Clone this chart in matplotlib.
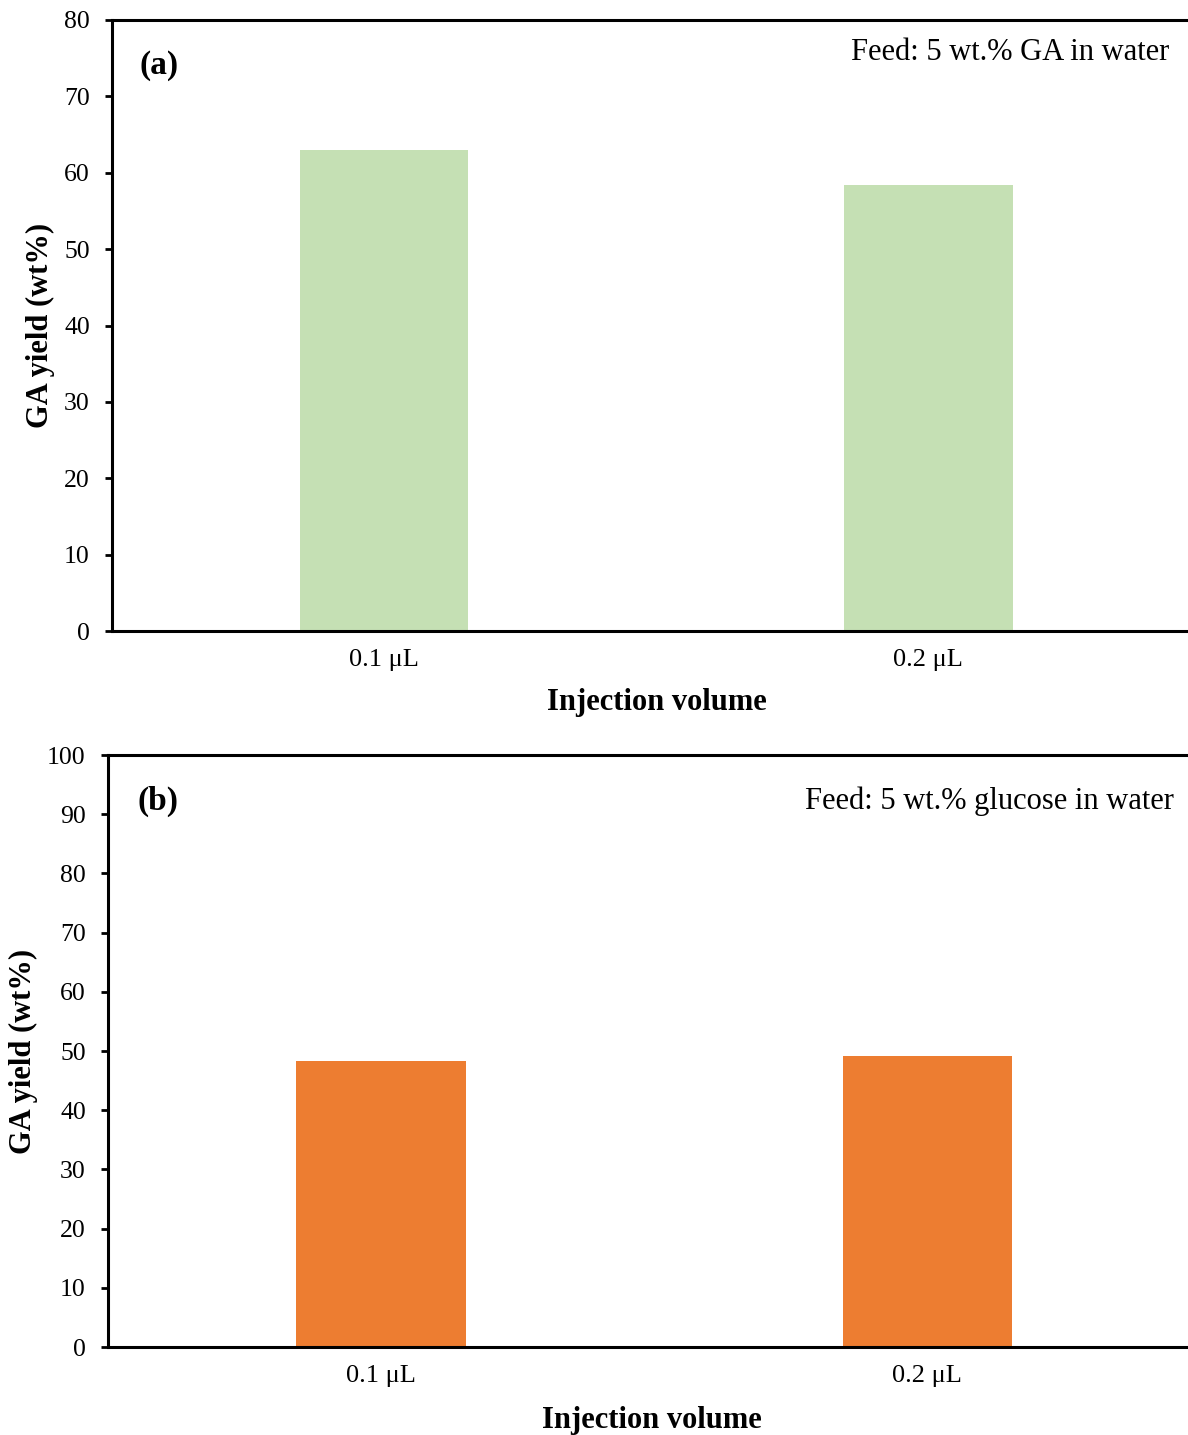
import matplotlib.pyplot as plt

plt.rcParams['font.family'] = ['Liberation Serif', 'DejaVu Serif']

categories = ['0.1 μL', '0.2 μL']
yield_ga_feed = [63.0, 58.4]
yield_glucose_feed = [48.3, 49.2]

green = '#C5E0B4'
orange = '#ED7D31'

fig = plt.figure(figsize=(11.88, 14.35), dpi=100)

ax_a = fig.add_axes([112 / 1188, 1 - 631 / 1435, 1 - 112 / 1188, (631 - 20) / 1435])
ax_b = fig.add_axes([108 / 1188, 1 - 1347 / 1435, 1 - 108 / 1188, (1347 - 755) / 1435])


def style_panel(ax, values, color, ymax, yticks, letter, feed, xlbl, ylbl):
    x = list(range(len(categories)))
    ax.bar(x, values, width=0.31, color=color)
    ax.set_xlim(-0.5, 1.477)
    ax.set_ylim(0, ymax)
    ax.set_xticks(x)
    ax.set_xticklabels(categories)
    ax.set_yticks(yticks)
    ax.tick_params(axis='x', length=0, pad=13, labelsize=19)
    ax.tick_params(axis='y', length=5, width=2, pad=11, labelsize=18.5, direction='out')
    for side in ['left', 'bottom', 'top']:
        ax.spines[side].set_linewidth(2.2)
    ax.spines['right'].set_visible(False)
    ax.set_xlabel('Injection volume', fontsize=22, fontweight='bold')
    ax.set_ylabel('GA yield (wt%)', fontsize=22, fontweight='bold')
    ax.xaxis.set_label_coords(xlbl[0], xlbl[1])
    ax.yaxis.set_label_coords(ylbl[0], ylbl[1])
    ax.text(letter[0], letter[1], letter[2], transform=ax.transAxes,
            fontsize=24, fontweight='bold', ha='left', va='center')
    ax.text(feed[0], feed[1], feed[2], transform=ax.transAxes,
            fontsize=22, ha='right', va='center')


style_panel(ax_a, yield_ga_feed, green, 80, range(0, 81, 10),
            (0.026, 0.926, '(a)'), (0.983, 0.946, 'Feed: 5 wt.% GA in water'),
            (0.506, -0.093), (-0.053, 0.5))
style_panel(ax_b, yield_glucose_feed, orange, 100, range(0, 101, 10),
            (0.027, 0.922, '(b)'), (0.987, 0.922, 'Feed: 5 wt.% glucose in water'),
            (0.504, -0.10), (-0.065, 0.5))

fig.savefig('out.png', dpi=100)
